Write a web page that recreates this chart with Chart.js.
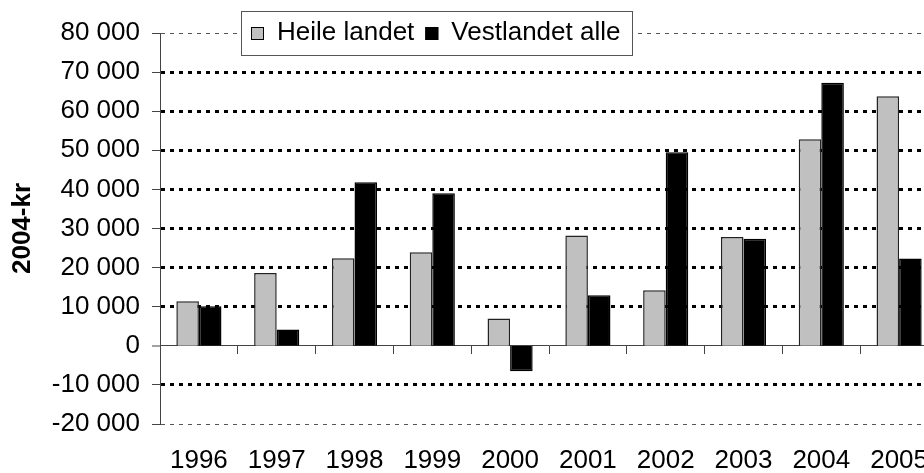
<!DOCTYPE html>
<html>
<head>
<meta charset="utf-8">
<script src="https://cdn.jsdelivr.net/npm/chart.js@4.4.0/dist/chart.umd.min.js"></script>
<style>
    html, body { margin: 0; padding: 0; background: #fff; overflow: hidden; }
    #wrap { width: 1000px; height: 473px; }
</style>
</head>
<body>
<div id="wrap"><canvas id="chart" width="1000" height="473"></canvas></div>
<script>
// Data (2004-kr)
const years = ['1996', '1997', '1998', '1999', '2000', '2001', '2002', '2003', '2004', '2005'];
const heileLandet = [11400, 18600, 22400, 23900, 7000, 28200, 14200, 27800, 52800, 63800];
const vestlandetAlle = [10100, 4200, 41800, 39000, -6500, 12900, 49500, 27400, 67300, 22300];
const seriesNames = ['Heile landet', 'Vestlandet alle'];
const yMin = -20000;
const yMax = 80000;
const yStep = 10000;
const yTitle = '2004-kr';

Chart.defaults.font.family = '"Liberation Sans", Arial, sans-serif';
Chart.defaults.color = '#000';

// "80 000" style numbers
function formatNumber(v) {
    return String(v).replace(/\B(?=(\d{3})+(?!\d))/g, ' ');
}

function isEdge(c) {
    return c.tick && (c.tick.value === yMin || c.tick.value === yMax);
}

// Legend box drawn over the top grid line, like the original
const boxLegend = {
    id: 'boxLegend',
    afterDraw(chart, args, opts) {
        const ctx = chart.ctx;
        ctx.save();
        ctx.font = opts.font;
        const items = chart.data.datasets.map(ds => ({
            text: ds.label,
            fill: ds.backgroundColor,
            w: ctx.measureText(ds.label).width
        }));
        let width = opts.padLeft;
        items.forEach((it, i) => {
            width += opts.square + opts.textGap + it.w;
            width += i < items.length - 1 ? opts.itemGap : opts.padRight;
        });
        const x0 = opts.x, y0 = opts.y, h = opts.height;
        const cy = y0 + h / 2;

        ctx.fillStyle = '#fff';
        ctx.fillRect(x0, y0, width, h);
        ctx.strokeStyle = '#555';
        ctx.lineWidth = 1;
        ctx.strokeRect(x0 + 0.5, y0 + 0.5, Math.round(width), h);

        let x = x0 + opts.padLeft;
        ctx.textBaseline = 'middle';
        ctx.textAlign = 'left';
        items.forEach(it => {
            const sy = Math.round(cy - opts.square / 2);
            ctx.fillStyle = it.fill;
            ctx.fillRect(x, sy, opts.square, opts.square);
            ctx.strokeStyle = '#000';
            ctx.strokeRect(x + 0.5, sy + 0.5, opts.square - 1, opts.square - 1);
            x += opts.square + opts.textGap;
            ctx.fillStyle = '#000';
            ctx.fillText(it.text, x, cy);
            x += it.w + opts.itemGap;
        });
        ctx.restore();
    }
};

const ctx = document.getElementById('chart').getContext('2d');
new Chart(ctx, {
    type: 'bar',
    data: {
        labels: years,
        datasets: [{
            label: seriesNames[0],
            data: heileLandet,
            backgroundColor: '#c0c0c0',
            borderColor: '#222',
            borderWidth: 1.5,
            categoryPercentage: 0.58,
            barPercentage: 1.0
        }, {
            label: seriesNames[1],
            data: vestlandetAlle,
            backgroundColor: '#000',
            borderColor: '#000',
            borderWidth: 1.5,
            categoryPercentage: 0.58,
            barPercentage: 1.0
        }]
    },
    options: {
        responsive: false,
        animation: false,
        layout: { padding: { top: 33, right: 62, left: 0, bottom: 0 } },
        plugins: {
            legend: { display: false },
            tooltip: { enabled: false },
            boxLegend: {
                x: 241, y: 11, height: 44,
                font: '26px "Liberation Sans", Arial, sans-serif',
                square: 13, textGap: 13, itemGap: 11, padLeft: 10, padRight: 12
            }
        },
        scales: {
            x: {
                position: 'bottom',
                grid: { display: false, drawTicks: false },
                border: { display: false },
                ticks: { padding: 21, font: { size: 26 }, color: '#000', autoSkip: false, maxRotation: 0 },
                afterFit: s => { s.height = 49; }
            },
            // zero line with tick marks between the years
            x0: {
                type: 'category',
                axis: 'x',
                position: { y: 0 },
                offset: true,
                ticks: { display: false },
                grid: { offset: true, drawOnChartArea: false, tickLength: 8, tickColor: '#444', tickWidth: 1 },
                border: { display: true, color: '#444', width: 1 }
            },
            y: {
                min: yMin,
                max: yMax,
                ticks: {
                    stepSize: yStep,
                    padding: 12,
                    font: { size: 26 },
                    color: '#000',
                    callback: v => formatNumber(v)
                },
                grid: {
                    color: c => isEdge(c) ? '#555' : '#000',
                    lineWidth: c => (c.tick && c.tick.value === 0) ? 0 : (isEdge(c) ? 1 : 3),
                    tickLength: 8,
                    tickColor: '#444',
                    tickWidth: 1
                },
                border: { display: true, color: '#444', width: 1, dash: [4, 5] },
                title: {
                    display: true,
                    text: yTitle,
                    font: { size: 26, weight: 'bold' },
                    color: '#000',
                    padding: { top: 7, bottom: 0 }
                },
                afterFit: s => { s.width = 160; }
            }
        }
    },
    plugins: [boxLegend]
});
</script>
</body>
</html>
